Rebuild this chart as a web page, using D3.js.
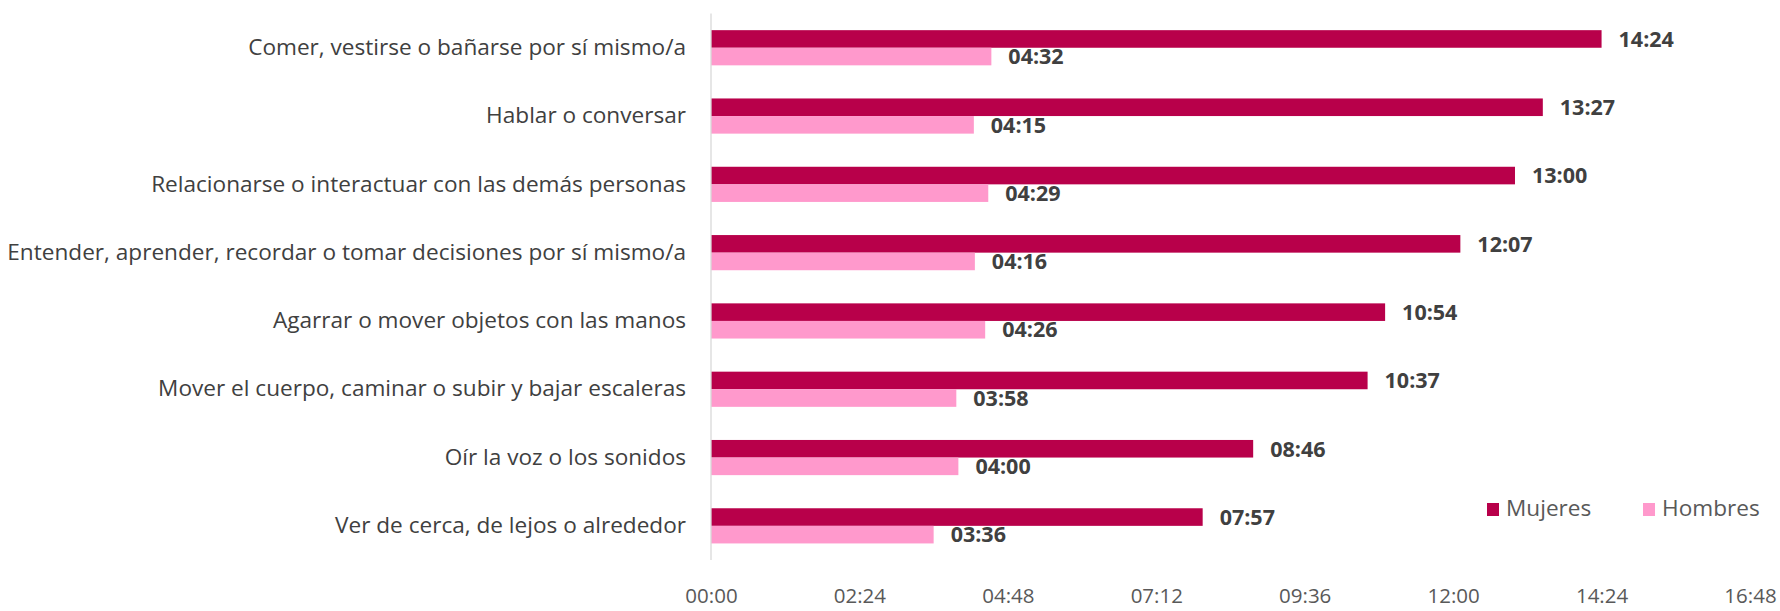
<!DOCTYPE html>
<html><head><meta charset="utf-8">
<script src="https://cdn.jsdelivr.net/npm/d3@7"></script>
<style>body{margin:0;background:#fff}svg{display:block}</style>
</head><body>
<svg id="c" width="1780" height="611"></svg>
<script>
const categories = [
  "Comer, vestirse o bañarse por sí mismo/a",
  "Hablar o conversar",
  "Relacionarse o interactuar con las demás personas",
  "Entender, aprender, recordar o tomar decisiones por sí mismo/a",
  "Agarrar o mover objetos con las manos",
  "Mover el cuerpo, caminar o subir y bajar escaleras",
  "Oír la voz o los sonidos",
  "Ver de cerca, de lejos o alrededor"
];
const mujeres = ["14:24","13:27","13:00","12:07","10:54","10:37","08:46","07:57"];
const hombres = ["04:32","04:15","04:29","04:16","04:26","03:58","04:00","03:36"];
const tickLabels = ["00:00","02:24","04:48","07:12","09:36","12:00","14:24","16:48"];
const seriesNames = ["Mujeres","Hombres"];
const colors = ["#B8004A","#FF99CC"];

(function(){
const toMin = s => { const [h,m] = s.split(":").map(Number); return h*60+m; };
const fmt = v => String(Math.floor(v/60)).padStart(2,"0")+":"+String(v%60).padStart(2,"0");

const svg = d3.select("#c");
const font = "'Open Sans', 'Noto Sans', sans-serif";
const pl = 711, pr = 1750, pt = 13.6, pb = 560;

const x = d3.scaleLinear().domain([0, toMin("16:48")]).range([pl, pr]);
const y = d3.scaleBand().domain(categories).range([pt, pb]).paddingInner(0.485).paddingOuter(0.2425);
const ys = d3.scaleBand().domain(seriesNames).range([0, y.bandwidth()]);

const data = categories.map((c,i)=>({c, vals:[toMin(mujeres[i]), toMin(hombres[i])]}));

const g = svg.append("g");
data.forEach(d => {
  seriesNames.forEach((s,j) => {
    g.append("rect")
      .attr("x", x(0)).attr("y", y(d.c)+ys(s))
      .attr("width", x(d.vals[j])-x(0)).attr("height", ys.bandwidth())
      .attr("fill", colors[j]);
    g.append("text")
      .attr("x", x(d.vals[j])+17).attr("y", y(d.c)+ys(s)+ys.bandwidth()/2+2)
      .attr("dominant-baseline","middle")
      .attr("font-family", font).attr("font-weight","bold").attr("font-size", 21.5)
      .attr("fill","#404040").text(fmt(d.vals[j]));
  });
});

svg.append("line").attr("x1", pl).attr("x2", pl).attr("y1", pt).attr("y2", pb)
  .attr("stroke","#D9D9D9").attr("stroke-width",1.3);

const ya = d3.axisLeft(y).tickSize(0).tickPadding(25);
const yg = svg.append("g").attr("transform",`translate(${pl},0)`).call(ya);
yg.select(".domain").remove();
yg.selectAll("text").attr("font-family", font).attr("font-size", 22.6).attr("fill","#404040");

const xa = d3.axisBottom(x).tickValues(tickLabels.map(toMin)).tickFormat((d,i)=>tickLabels[i]).tickSize(0).tickPadding(0);
const xg = svg.append("g").attr("transform",`translate(0,596)`).call(xa);
xg.select(".domain").remove();
xg.selectAll("text").attr("font-family", font).attr("font-size", 20.5).attr("fill","#595959")
  .attr("dy","0.35em");

const legX = [1487, 1643];
seriesNames.forEach((s,j)=>{
  svg.append("rect").attr("x", legX[j]).attr("y", 503).attr("width", 12).attr("height", 13).attr("fill", colors[j]);
  svg.append("text").attr("x", legX[j]+19).attr("y", 510).attr("dominant-baseline","middle")
    .attr("font-family", font).attr("font-size", 22.6).attr("fill","#595959").text(s);
});
})();
</script>
</body></html>
